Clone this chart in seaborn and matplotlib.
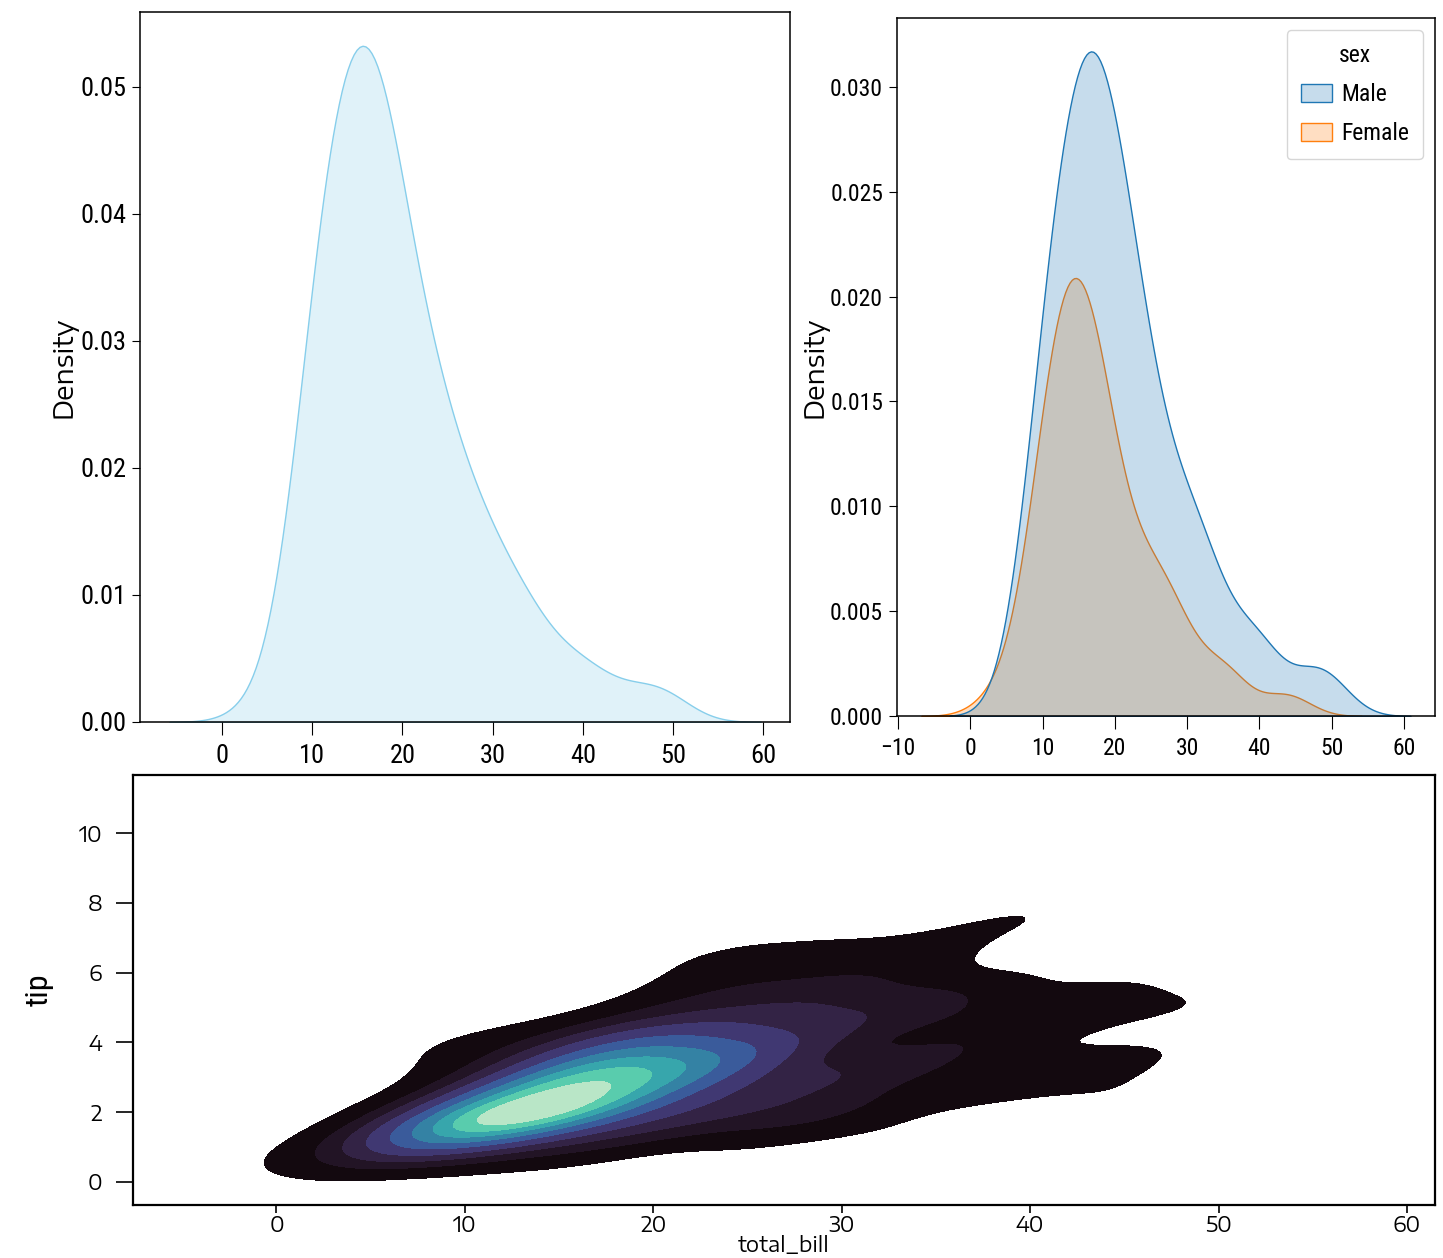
import matplotlib
matplotlib.use("Agg")
import matplotlib.pyplot as plt
from matplotlib import font_manager as fm
from matplotlib.ticker import MultipleLocator
import pandas as pd
import seaborn as sns

# Restaurant tips: bill total, tip amount and sex of the payer, one entry per party
total_bill = [
    16.99, 10.34, 21.01, 23.68, 24.59, 25.29, 8.77, 26.88, 15.04, 14.78,
    10.27, 35.26, 15.42, 18.43, 14.83, 21.58, 10.33, 16.29, 16.97, 20.65,
    17.92, 20.29, 15.77, 39.42, 19.82, 17.81, 13.37, 12.69, 21.70, 19.65,
    9.55, 18.35, 15.06, 20.69, 17.78, 24.06, 16.31, 16.93, 18.69, 31.27,
    16.04, 17.46, 13.94, 9.68, 30.40, 18.29, 22.23, 32.40, 28.55, 18.04,
    12.54, 10.29, 34.81, 9.94, 25.56, 19.49, 38.01, 26.41, 11.24, 48.27,
    20.29, 13.81, 11.02, 18.29, 17.59, 20.08, 16.45, 3.07, 20.23, 15.01,
    12.02, 17.07, 26.86, 25.28, 14.73, 10.51, 17.92, 27.20, 22.76, 17.29,
    19.44, 16.66, 10.07, 32.68, 15.98, 34.83, 13.03, 18.28, 24.71, 21.16,
    28.97, 22.49, 5.75, 16.32, 22.75, 40.17, 27.28, 12.03, 21.01, 12.46,
    11.35, 15.38, 44.30, 22.42, 20.92, 15.36, 20.49, 25.21, 18.24, 14.31,
    14.00, 7.25, 38.07, 23.95, 25.71, 17.31, 29.93, 10.65, 12.43, 24.08,
    11.69, 13.42, 14.26, 15.95, 12.48, 29.80, 8.52, 14.52, 11.38, 22.82,
    19.08, 20.27, 11.17, 12.26, 18.26, 8.51, 10.33, 14.15, 16.00, 13.16,
    17.47, 34.30, 41.19, 27.05, 16.43, 8.35, 18.64, 11.87, 9.78, 7.51,
    14.07, 13.13, 17.26, 24.55, 19.77, 29.85, 48.17, 25.00, 13.39, 16.49,
    21.50, 12.66, 16.21, 13.81, 17.51, 24.52, 20.76, 31.71, 10.59, 10.63,
    50.81, 15.81, 7.25, 31.85, 16.82, 32.90, 17.89, 14.48, 9.60, 34.63,
    34.65, 23.33, 45.35, 23.17, 40.55, 20.69, 20.90, 30.46, 18.15, 23.10,
    15.69, 19.81, 28.44, 15.48, 16.58, 7.56, 10.34, 43.11, 13.00, 13.51,
    18.71, 12.74, 13.00, 16.40, 20.53, 16.47, 26.59, 38.73, 24.27, 12.76,
    30.06, 25.89, 48.33, 13.27, 28.17, 12.90, 28.15, 11.59, 7.74, 30.14,
    12.16, 13.42, 8.58, 15.98, 13.42, 16.27, 10.09, 20.45, 13.28, 22.12,
    24.01, 15.69, 11.61, 10.77, 15.53, 10.07, 12.60, 32.83, 35.83, 29.03,
    27.18, 22.67, 17.82, 18.78,
]

tip = [
    1.01, 1.66, 3.50, 3.31, 3.61, 4.71, 2.00, 3.12, 1.96, 3.23,
    1.71, 5.00, 1.57, 3.00, 3.02, 3.92, 1.67, 3.71, 3.50, 3.35,
    4.08, 2.75, 2.23, 7.58, 3.18, 2.34, 2.00, 2.00, 4.30, 3.00,
    1.45, 2.50, 3.00, 2.45, 3.27, 3.60, 2.00, 3.07, 2.31, 5.00,
    2.24, 2.54, 3.06, 1.32, 5.60, 3.00, 5.00, 6.00, 2.05, 3.00,
    2.50, 2.60, 5.20, 1.56, 4.34, 3.51, 3.00, 1.50, 1.76, 6.73,
    3.21, 2.00, 1.98, 3.76, 2.64, 3.15, 2.47, 1.00, 2.01, 2.09,
    1.97, 3.00, 3.14, 5.00, 2.20, 1.25, 3.08, 4.00, 3.00, 2.71,
    3.00, 3.40, 1.83, 5.00, 2.03, 5.17, 2.00, 4.00, 5.85, 3.00,
    3.00, 3.50, 1.00, 4.30, 3.25, 4.73, 4.00, 1.50, 3.00, 1.50,
    2.50, 3.00, 2.50, 3.48, 4.08, 1.64, 4.06, 4.29, 3.76, 4.00,
    3.00, 1.00, 4.00, 2.55, 4.00, 3.50, 5.07, 1.50, 1.80, 2.92,
    2.31, 1.68, 2.50, 2.00, 2.52, 4.20, 1.48, 2.00, 2.00, 2.18,
    1.50, 2.83, 1.50, 2.00, 3.25, 1.25, 2.00, 2.00, 2.00, 2.75,
    3.50, 6.70, 5.00, 5.00, 2.30, 1.50, 1.36, 1.63, 1.73, 2.00,
    2.50, 2.00, 2.74, 2.00, 2.00, 5.14, 5.00, 3.75, 2.61, 2.00,
    3.50, 2.50, 2.00, 2.00, 3.00, 3.48, 2.24, 4.50, 1.61, 2.00,
    10.00, 3.16, 5.15, 3.18, 4.00, 3.11, 2.00, 2.00, 4.00, 3.55,
    3.68, 5.65, 3.50, 6.50, 3.00, 5.00, 3.50, 2.00, 3.50, 4.00,
    1.50, 4.19, 2.56, 2.02, 4.00, 1.44, 2.00, 5.00, 2.00, 2.00,
    4.00, 2.01, 2.00, 2.50, 4.00, 3.23, 3.41, 3.00, 2.03, 2.23,
    2.00, 5.16, 9.00, 2.50, 6.50, 1.10, 3.00, 1.50, 1.44, 3.09,
    2.20, 3.48, 1.92, 3.00, 1.58, 2.50, 2.00, 3.00, 2.72, 2.88,
    2.00, 3.00, 3.39, 1.47, 3.00, 1.25, 1.00, 1.17, 4.67, 5.92,
    2.00, 2.00, 1.75, 3.00,
]

sex = [
    "Female", "Male", "Male", "Male", "Female", "Male", "Male", "Male", "Male", "Male",
    "Male", "Female", "Male", "Male", "Female", "Male", "Female", "Male", "Female", "Male",
    "Male", "Female", "Female", "Male", "Male", "Male", "Male", "Male", "Male", "Female",
    "Male", "Male", "Female", "Female", "Male", "Male", "Male", "Female", "Male", "Male",
    "Male", "Male", "Male", "Male", "Male", "Male", "Male", "Male", "Male", "Male",
    "Male", "Female", "Female", "Male", "Male", "Male", "Male", "Female", "Male", "Male",
    "Male", "Male", "Male", "Male", "Male", "Male", "Female", "Female", "Male", "Male",
    "Male", "Female", "Female", "Female", "Female", "Male", "Male", "Male", "Male", "Male",
    "Male", "Male", "Female", "Male", "Male", "Female", "Male", "Male", "Male", "Male",
    "Male", "Male", "Female", "Female", "Female", "Male", "Male", "Male", "Male", "Male",
    "Female", "Female", "Female", "Female", "Female", "Male", "Male", "Male", "Male", "Female",
    "Male", "Female", "Male", "Male", "Female", "Female", "Male", "Female", "Female", "Female",
    "Male", "Female", "Male", "Male", "Female", "Female", "Male", "Female", "Female", "Male",
    "Male", "Female", "Female", "Female", "Female", "Female", "Female", "Female", "Male", "Female",
    "Female", "Male", "Male", "Female", "Female", "Female", "Female", "Female", "Male", "Male",
    "Male", "Male", "Male", "Male", "Male", "Female", "Male", "Female", "Female", "Male",
    "Male", "Male", "Female", "Male", "Female", "Male", "Male", "Male", "Female", "Female",
    "Male", "Male", "Male", "Male", "Male", "Male", "Male", "Male", "Female", "Male",
    "Male", "Male", "Male", "Male", "Male", "Male", "Female", "Male", "Female", "Male",
    "Male", "Female", "Male", "Male", "Male", "Male", "Male", "Female", "Female", "Male",
    "Male", "Female", "Female", "Female", "Male", "Female", "Male", "Male", "Male", "Female",
    "Male", "Male", "Male", "Female", "Female", "Female", "Male", "Male", "Male", "Female",
    "Male", "Female", "Male", "Female", "Male", "Female", "Female", "Male", "Male", "Female",
    "Male", "Male", "Male", "Male", "Male", "Male", "Male", "Male", "Female", "Male",
    "Female", "Male", "Male", "Female",
]

sex_order = ["Male", "Female"]

tips = pd.DataFrame({"total_bill": total_bill, "tip": tip, "sex": sex})

REGULAR = (400, "normal", "regular", "book")


def find_face(names, stretches):
    """File of a regular upright face from the first family found, else any of the stretches."""
    fonts = fm.fontManager.ttflist
    for name in names:
        for f in fonts:
            if f.name == name and f.style == "normal" and f.weight in REGULAR:
                return f.fname
    for f in fonts:
        if f.stretch in stretches and f.style == "normal" and f.weight in REGULAR:
            return f.fname
    return None


narrow_path = find_face(["Roboto Condensed", "Liberation Sans Narrow"],
                        ("condensed", "semi-condensed"))
wide_path = find_face(["Encode Sans Expanded", "Encode Sans Semi Expanded"],
                      ("expanded", "semi-expanded"))


def narrow(size):
    if narrow_path:
        return fm.FontProperties(fname=narrow_path, size=size)
    return fm.FontProperties(family=["Roboto", "DejaVu Sans"], size=size)


def wide(size):
    if wide_path:
        return fm.FontProperties(fname=wide_path, size=size)
    return fm.FontProperties(family=["DejaVu Sans"], size=size)


fig = plt.figure(figsize=(14.43, 12.58), dpi=100)
ax1 = fig.add_axes([0.0970, 0.4261, 0.4505, 0.5644])
ax2 = fig.add_axes([0.6216, 0.4308, 0.3728, 0.5548])
ax3 = fig.add_axes([0.0922, 0.0421, 0.9023, 0.3418])

# Overall distribution of the bill
sns.kdeplot(x=tips["total_bill"].tolist(), fill=True, color="skyblue", ax=ax1)
ax1.set_ylabel("Density", fontproperties=wide(19), labelpad=2)

# Bill distribution split by sex
sns.kdeplot(data=tips, x="total_bill", hue="sex", hue_order=sex_order,
            fill=True, ax=ax2)
ax2.set_xlabel("")
ax2.set_ylabel("Density", fontproperties=wide(19), labelpad=1)

for ax, size, xpad in ((ax1, 19, 7), (ax2, 17, 6)):
    ax.xaxis.set_major_locator(MultipleLocator(10))
    ax.tick_params(axis="x", length=9, pad=xpad)
    ax.tick_params(axis="y", length=6, pad=4)
    for lab in ax.get_xticklabels() + ax.get_yticklabels():
        lab.set_fontproperties(narrow(size))
    for s in ax.spines.values():
        s.set_linewidth(1.1)

old = ax2.get_legend()
handles = old.legend_handles
ax2.legend(handles, sex_order, title="sex", loc="upper right",
           prop=narrow(17), title_fontproperties=narrow(17),
           handlelength=1.3, handleheight=0.8, labelspacing=0.68,
           borderpad=0.6, handletextpad=0.4, borderaxespad=0.5)

# Joint density of bill and tip
sns.kdeplot(data=tips, x="total_bill", y="tip", fill=True, cmap="mako", ax=ax3)
ax3.set_xlabel("total_bill", fontproperties=wide(15), labelpad=-1)
ax3.set_ylabel("tip", fontproperties=narrow(23), labelpad=18)
ax3.tick_params(axis="x", length=6, width=1.2, pad=1)
ax3.tick_params(axis="y", length=12, width=1.2, pad=10)
for lab in ax3.get_xticklabels() + ax3.get_yticklabels():
    lab.set_fontproperties(wide(15))
for s in ax3.spines.values():
    s.set_linewidth(1.6)

fig.savefig("out.png", dpi=100)
